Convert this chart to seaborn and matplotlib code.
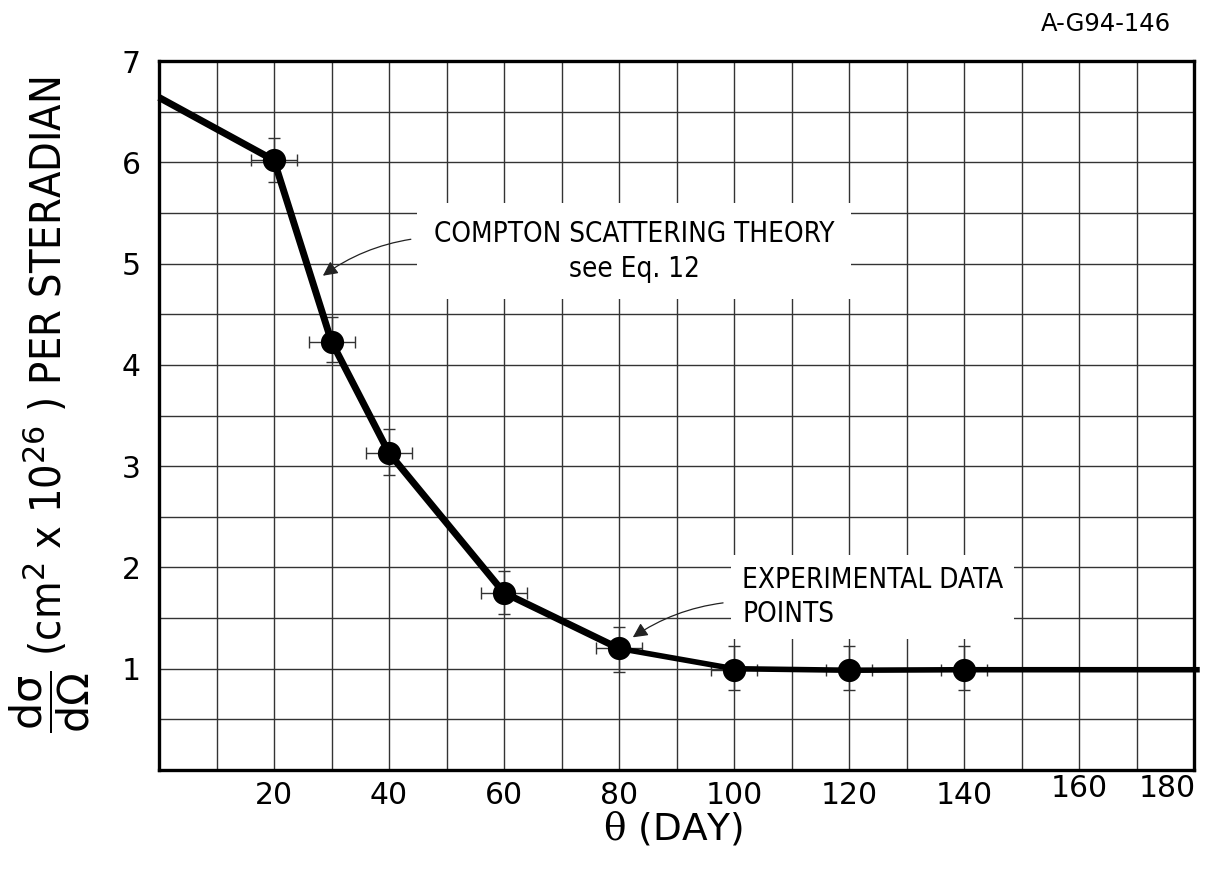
import numpy as np
import pandas as pd
import matplotlib
matplotlib.use("Agg")
import matplotlib.pyplot as plt
import matplotlib.transforms as mtransforms
from matplotlib.ticker import MultipleLocator
import seaborn as sns

# ---------------- data ----------------
theory_angle = [0, 20, 30, 40, 60, 80, 100, 120, 140, 181]
theory_cross = [6.64, 6.02, 4.23, 3.13, 1.75, 1.20, 1.00, 0.985, 0.99, 0.99]

exp_angle = [20, 30, 40, 60, 80, 100, 120, 140]
exp_cross = [6.02, 4.23, 3.13, 1.75, 1.20, 0.99, 0.99, 0.99]
exp_low = [5.81, 4.03, 2.91, 1.54, 0.97, 0.79, 0.79, 0.79]
exp_high = [6.24, 4.47, 3.37, 1.96, 1.41, 1.22, 1.22, 1.22]
angle_err = [4, 4, 4, 4, 4, 4, 4, 4]

x_ticks = [20, 40, 60, 80, 100, 120, 140, 160, 180]
y_ticks = [1, 2, 3, 4, 5, 6, 7]

theory_label = "COMPTON SCATTERING THEORY\nsee Eq. 12"
exp_label = "EXPERIMENTAL DATA\nPOINTS"
corner_label = "A-G94-146"
x_label = r"$\mathrm{\theta}$ (DAY)"
y_label = r"$\dfrac{\mathrm{d\sigma}}{\mathrm{d\Omega}}$ (cm$^2$ x 10$^{26}$ ) PER STERADIAN"

# ---------------- style ----------------
sns.set_theme(style="white")
plt.rcParams["font.family"] = ["DejaVu Sans"]
plt.rcParams["mathtext.fontset"] = "dejavusans"
for key in ["text.color", "axes.labelcolor", "xtick.color", "ytick.color"]:
    plt.rcParams[key] = "black"

fig, ax = plt.subplots(figsize=(12.19, 8.71), dpi=100)
fig.subplots_adjust(left=159 / 1219, right=1194 / 1219,
                    bottom=1 - 770 / 871, top=1 - 61 / 871)

theory = pd.DataFrame({"angle": theory_angle, "cross": theory_cross})
exp = pd.DataFrame({"angle": exp_angle, "cross": exp_cross,
                    "low": exp_low, "high": exp_high, "xerr": angle_err})

# theory curve (thicker on the steep part)
part1 = theory[theory["angle"] <= 80]
part2 = theory[theory["angle"] >= 80]
sns.lineplot(data=part1, x="angle", y="cross", ax=ax, color="black",
             lw=5.0, sort=False, clip_on=False, zorder=3,
             solid_joinstyle="round", solid_capstyle="butt")
sns.lineplot(data=part2, x="angle", y="cross", ax=ax, color="black",
             lw=4.0, sort=False, clip_on=False, zorder=3,
             solid_joinstyle="round", solid_capstyle="butt")

# error bars
ax.errorbar(exp["angle"], exp["cross"],
            yerr=[exp["cross"] - exp["low"], exp["high"] - exp["cross"]],
            xerr=exp["xerr"], fmt="none", ecolor="#333333",
            elinewidth=1.0, capsize=4, capthick=1.0, zorder=2)

# data points
sns.scatterplot(data=exp, x="angle", y="cross", ax=ax, s=280,
                color="black", edgecolor="black", linewidth=0, zorder=4)

# axes
ax.set_xlim(0, 180)
ax.set_ylim(0, 7)
ax.set_xticks(x_ticks)
ax.set_yticks(y_ticks)
ax.xaxis.set_minor_locator(MultipleLocator(10))
ax.yaxis.set_minor_locator(MultipleLocator(0.5))
ax.grid(True, which="both", color="#333333", lw=1.0)
ax.set_axisbelow(True)
ax.tick_params(which="both", length=0)
ax.tick_params(axis="x", labelsize=21.5, pad=8)
ax.tick_params(axis="y", labelsize=21.5, pad=13)
for sp in ax.spines.values():
    sp.set_visible(True)
    sp.set_color("black")
    sp.set_linewidth(2.4)

ax.set_xlabel(x_label, fontsize=27, va="center", ha="center",
              math_fontfamily="dejavuserif")
ax.xaxis.set_label_coords(0.497, -0.082)
ax.set_ylabel(y_label, fontsize=31, fontstretch="condensed",
              rotation=90, va="center", ha="center", rotation_mode="default")
ax.yaxis.set_label_coords(-0.106, 0.515)

fig.canvas.draw()
for lab in ax.get_xticklabels():
    if lab.get_text() == "180":
        lab.set_transform(lab.get_transform() + mtransforms.ScaledTranslation(
            -0.27, 0.07, fig.dpi_scale_trans))
    elif lab.get_text() == "160":
        lab.set_transform(lab.get_transform() + mtransforms.ScaledTranslation(
            0, 0.07, fig.dpi_scale_trans))

# annotations
ax.text(82.6, 5.12, theory_label, ha="center", va="center",
        multialignment="center", fontsize=20, fontstretch="condensed",
        linespacing=1.3, color="black", zorder=5,
        bbox=dict(facecolor="white", edgecolor="none", pad=12))
ax.annotate("", xy=(28.5, 4.88), xytext=(43.8, 5.24),
            arrowprops=dict(arrowstyle="-|>", color="#222222", lw=0.9,
                            mutation_scale=22, shrinkA=0, shrinkB=0,
                            connectionstyle="arc3,rad=0.12"), zorder=6)

ax.text(101.4, 1.71, exp_label, ha="left", va="center",
        fontsize=20, fontstretch="condensed", linespacing=1.25,
        color="black", zorder=5,
        bbox=dict(facecolor="white", edgecolor="none", pad=8))
ax.annotate("", xy=(82.4, 1.31), xytext=(98.1, 1.65),
            arrowprops=dict(arrowstyle="-|>", color="#222222", lw=0.9,
                            mutation_scale=22, shrinkA=0, shrinkB=0,
                            connectionstyle="arc3,rad=0.12"), zorder=6)

fig.text(1171 / 1219, 1 - 24 / 871, corner_label, ha="right", va="center",
         fontsize=17.5, color="black")

fig.savefig("out.png", dpi=100)
